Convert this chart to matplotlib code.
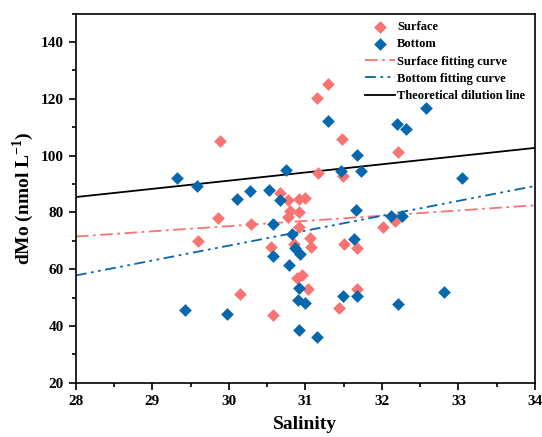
import matplotlib
matplotlib.use('Agg')
import matplotlib.pyplot as plt
from matplotlib.ticker import MultipleLocator

plt.rcParams['font.family'] = ['Liberation Serif', 'DejaVu Serif']
plt.rcParams['font.weight'] = 'bold'
plt.rcParams['mathtext.fontset'] = 'custom'
plt.rcParams['mathtext.rm'] = 'Liberation Serif:bold'
plt.rcParams['mathtext.bf'] = 'Liberation Serif:bold'

# surface samples (salinity, dMo)
surface_sal = [29.88, 31.15, 31.29, 31.48, 31.17, 31.49, 30.67, 30.77, 30.92, 30.99,
               30.80, 30.92, 30.77, 30.29, 30.91, 31.06, 30.55, 31.07, 30.85, 31.51,
               31.67, 30.95, 30.89, 31.04, 30.57, 31.44, 31.67, 29.86, 29.59, 30.14,
               32.21, 32.17, 32.02]
surface_mo = [105.0, 120.1, 125.1, 105.7, 94.0, 92.7, 86.8, 84.5, 84.6, 85.1,
              80.6, 80.0, 78.5, 75.8, 74.8, 71.1, 67.7, 67.7, 69.0, 68.9,
              67.6, 57.8, 56.8, 52.9, 44.0, 46.4, 53.1, 78.1, 69.8, 51.2,
              101.1, 76.9, 74.8]

# bottom samples
bottom_sal = [29.32, 29.58, 30.75, 31.29, 31.47, 30.11, 30.27, 30.53, 30.67, 31.68,
              31.72, 30.57, 30.82, 31.66, 30.87, 30.58, 30.93, 31.63, 30.79, 30.92,
              30.90, 30.99, 30.91, 31.15, 31.49, 31.67, 29.42, 29.98, 32.58, 32.20,
              32.31, 33.05, 32.12, 32.26, 32.21, 32.81]
bottom_mo = [92.2, 89.4, 94.9, 112.2, 94.5, 84.6, 87.4, 88.0, 84.4, 100.1,
             94.5, 76.0, 72.5, 81.0, 67.5, 64.8, 65.2, 70.5, 61.3, 53.4,
             49.2, 48.0, 38.6, 36.2, 50.4, 50.7, 45.7, 44.1, 116.8, 111.1,
             109.2, 92.1, 78.6, 78.6, 47.8, 51.9]

# fitted / theoretical lines (read at the axis ends)
line_sal = [28, 34]
surface_fit = [71.5, 82.5]
bottom_fit = [57.8, 89.3]
dilution = [85.4, 102.7]

red = '#F97373'
blue = '#0767AC'

fig = plt.figure(figsize=(5.42, 4.37), dpi=100)
ax = fig.add_axes([0.140, 0.124, 0.847, 0.845])

ax.scatter(surface_sal, surface_mo, marker='D', s=42, color=red, linewidths=0,
           label='Surface', zorder=3)
ax.scatter(bottom_sal, bottom_mo, marker='D', s=42, color=blue, linewidths=0,
           label='Bottom', zorder=3)
ax.plot(line_sal, surface_fit, color=red, lw=1.3, dashes=[7, 2.5, 1.5, 2.5],
        label='Surface fitting curve', zorder=2)
ax.plot(line_sal, bottom_fit, color=blue, lw=1.3, dashes=[6, 2.5, 1.5, 2.5, 1.5, 2.5],
        label='Bottom fitting curve', zorder=2)
ax.plot(line_sal, dilution, color='black', lw=1.3,
        label='Theoretical dilution line', zorder=2)

ax.set_xlim(28, 34)
ax.set_ylim(20, 150)
ax.xaxis.set_major_locator(MultipleLocator(1))
ax.xaxis.set_minor_locator(MultipleLocator(0.5))
ax.yaxis.set_major_locator(MultipleLocator(20))
ax.yaxis.set_minor_locator(MultipleLocator(10))
ax.set_yticks([20, 40, 60, 80, 100, 120, 140])
ax.tick_params(which='major', direction='out', length=5, width=1.2, labelsize=11)
ax.tick_params(which='minor', direction='out', length=3, width=1.2)
for s in ax.spines.values():
    s.set_linewidth(1.2)

ax.set_xlabel('Salinity', fontsize=14, fontweight='bold', labelpad=6)
ax.set_ylabel(r'dMo (nmol L$^{-1}$)', fontsize=14, fontweight='bold', labelpad=4)

ax.legend(loc='upper right', bbox_to_anchor=(0.995, 1.0), frameon=False,
          fontsize=9, handlelength=2.4, handletextpad=0.2, labelspacing=0.42,
          borderaxespad=0.2)

fig.savefig('out.png', dpi=100)
